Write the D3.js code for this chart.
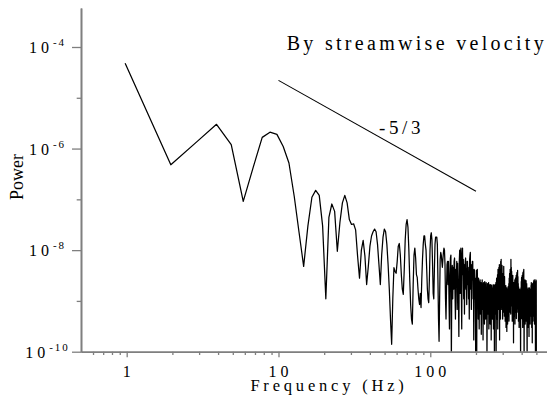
<!DOCTYPE html>
<html><head><meta charset="utf-8">
<script src="https://cdn.jsdelivr.net/npm/d3@7/dist/d3.min.js"></script>
<style>
body{margin:0;background:#fff}
svg{display:block}
svg text, svg tspan{font-family:"Liberation Serif","Times New Roman",Times,serif;fill:#000}
</style>
</head><body>
<svg id="chart" width="547" height="400"></svg>
<script>
// ---- data ----
const sampleRate = 1000;   // Hz
const nfft = 1024;         // frequency bin k -> k*sampleRate/nfft
// power spectrum, bins k = 1..100
const powerLow = [
4.8e-5,4.8e-7,1.4e-6,3.0e-6,1.2e-6,9.1e-8,4.4e-7,1.66e-6,2.1e-6,1.9e-6,
1.1e-6,5.2e-7,1.15e-7,2.2e-8,4.8e-9,3e-8,1.1e-7,1.5e-7,1.2e-7,3e-8,
1.1e-9,4.4e-8,8.1e-8,5.8e-8,9.5e-9,3.5e-8,8.5e-8,1.2e-7,8.5e-8,4e-8,
3.2e-8,3.3e-8,2.5e-8,7.6e-9,2.8e-9,1e-8,1.55e-8,7.6e-9,2.1e-9,4.8e-9,
1.2e-8,1.9e-8,2.3e-8,2.6e-8,2.3e-8,1.3e-8,5.2e-9,2.1e-9,8e-9,1.8e-8,
2.6e-8,2.3e-8,1.3e-8,5.2e-9,1.7e-9,4.4e-10,1.4e-10,1.1e-9,4.5e-9,3.8e-9,
3.5e-9,6e-9,1.2e-8,1.35e-8,8e-9,3.3e-9,1.7e-9,1.35e-9,4.2e-9,1.6e-8,
3.2e-8,4e-8,2.8e-8,1e-8,2.6e-9,8.5e-10,4.4e-10,3.5e-10,2.1e-9,8e-9,
1.1e-8,7e-9,3.3e-9,2.9e-9,1.7e-9,1.1e-9,8.5e-10,1.4e-9,7.4e-10,2.6e-9,
6.6e-9,1.3e-8,1.9e-8,1.9e-8,1.3e-8,1e-8,4.2e-9,1.7e-9,1.1e-9,9.3e-10
];
// bins k = 101..300
const powerMid = [
2.6e-9,1e-8,1.9e-8,2.2e-8,1.6e-8,5.2e-9,1.4e-9,1.1e-9,4.2e-9,1.3e-8,
1.8e-8,1.8e-8,1.8e-8,1.3e-8,2.6e-9,4.4e-10,1.6e-10,1.1e-9,6.6e-9,9e-9,
8e-9,6e-9,4.6e-9,6.6e-9,9e-9,1.1e-8,1e-8,5.2e-9,1.1e-9,4.4e-10,
1.7e-9,5.2e-9,6e-9,2.1e-9,6e-9,1.1e-9,2.8e-10,3.3e-9,7e-9,8e-9,
7e-11,2.6e-9,5e-9,1.1e-9,4.6e-9,1.7e-9,6e-9,7e-9,1.4e-9,4.4e-10,
4.2e-9,2.6e-9,6e-9,6.8e-10,5.5e-9,2.1e-9,1.1e-9,2e-10,6e-9,1e-8,
1.4e-9,9e-9,1.1e-8,1.7e-9,2.8e-10,8e-9,1.1e-8,3.3e-9,6.6e-9,1.1e-9,
5.2e-9,5.5e-10,4.2e-9,6e-9,7e-9,1.7e-9,4.2e-9,8.5e-10,6e-9,6e-9,
2.1e-9,3.3e-9,1.1e-9,4.6e-9,4.4e-10,6.6e-9,8e-9,9e-9,1.7e-9,4.2e-9,
6.8e-10,5.2e-9,2.6e-9,6e-9,6e-9,1.1e-9,3.3e-9,1.7e-10,4.2e-9,4e-9,
1.1e-9,2.8e-9,6.8e-10,7e-11,2.1e-9,4e-9,5e-11,2.6e-9,4.2e-9,1.1e-9,
2.1e-9,4.4e-10,2.8e-9,1.4e-9,2.8e-10,2.4e-9,1.1e-9,2.6e-9,5.5e-10,1.7e-9,
2.3e-9,2.2e-10,1.7e-9,6.8e-10,2.6e-9,1.1e-9,2.2e-9,1.7e-10,1.4e-9,2.3e-9,
8.5e-10,1.7e-9,3.5e-10,2.4e-9,1.1e-9,2.1e-9,4.4e-10,1.7e-9,2.3e-9,6.8e-10,
1.4e-9,7e-11,1.1e-9,2.2e-9,5.5e-10,1.8e-9,1.1e-9,2.3e-9,2.8e-10,1.7e-9,
2e-9,6.8e-10,2.1e-9,3.5e-10,1.6e-9,1.1e-9,2.1e-9,1.7e-10,1.7e-9,2e-9,
6.8e-10,1.4e-9,4.4e-10,1.8e-9,1.1e-9,2.1e-9,2.8e-10,1.6e-9,1.1e-9,2e-9,
5e-11,1.4e-9,2.1e-9,5.5e-10,1.7e-9,8.5e-10,2.3e-9,7e-11,1.7e-9,2.8e-9,
4.4e-10,2.1e-9,1.1e-9,3.3e-9,2.8e-10,4.2e-9,1.4e-9,4e-9,6.8e-10,4.6e-9,
1.7e-9,5.2e-9,1.7e-10,3.3e-9,1.1e-9,4.2e-9,4.4e-10,6e-9,1.7e-9,6.6e-9
];
// bins k = 301..512
const powerHigh = [
1.1e-9,4.6e-9,6.8e-10,5e-9,1.2e-9,3e-9,
4.4e-10,2.6e-9,9e-10,3.5e-9,6e-10,4.8e-9,1.4e-9,2.4e-9,5e-10,3e-9,8e-10,
1.8e-9,4e-10,1.5e-9,7e-10,2e-9,3e-10,1.2e-9,9e-10,1.8e-9,2.5e-10,1.4e-9,6e-10,1.7e-9,3.5e-10,1e-9,1.9e-9,5e-10,1.6e-9,
7e-10,2.2e-9,4e-10,2.8e-9,1e-9,3.5e-9,6e-10,2.5e-9,4.2e-9,9e-10,3.8e-9,5.5e-10,6.6e-9,1.5e-9,4.6e-9,
8e-10,3.8e-9,1.2e-9,3e-9,4e-10,2.6e-9,1e-9,3.2e-9,6e-10,2.2e-9,1.6e-9,1.5e-10,2.3e-9,7e-10,1.8e-9,
5e-10,2e-9,1.1e-9,2.6e-9,3.5e-10,1.8e-9,9e-10,2.8e-9,6e-10,2.2e-9,1.3e-9,3.2e-9,4.5e-10,2.5e-9,1e-9,3.6e-9,7e-10,2.7e-9,1.4e-9,4e-9,
6e-10,3e-9,1e-9,2.2e-9,4e-10,1.9e-9,8e-10,1.6e-9,3e-10,1.5e-9,1e-9,1.7e-9,5e-10,1.3e-9,7e-10,1.6e-9,4e-10,5e-11,1.2e-9,1.8e-9,
6e-10,2.4e-9,1e-9,2.9e-9,4.5e-10,2.2e-9,1.2e-9,3.2e-9,7e-10,2.6e-9,3e-10,3.6e-9,1.1e-9,2.8e-9,6e-10,3.9e-9,1.4e-9,4.2e-9,8e-10,5e-11,
1.5e-9,2.4e-9,5e-10,2e-9,1e-9,2.6e-9,3.5e-10,1.8e-9,8e-10,2.3e-9,1.2e-9,4e-10,2.5e-9,9e-10,1.9e-9,6e-10,2.2e-9,1.1e-9,2.4e-10,5e-11,1.6e-9,
7e-10,1.7e-9,4e-10,1.4e-9,9e-10,1.8e-9,3e-10,1.2e-9,6e-10,1.6e-9,1e-9,2e-10,1.5e-9,7e-10,1.8e-9,4.5e-10,1.3e-9,8e-10,1.7e-9,3.5e-10,1.1e-9,1.6e-9,5e-10,1.4e-9,9e-10,
2e-9,6e-10,2.3e-9,1e-9,1.7e-9,3e-10,2.1e-9,8e-10,1.5e-9,1.5e-10,1.9e-9,7e-10,2.2e-9,1.1e-9,4e-10,1.8e-9,9e-10,2.3e-9,5e-10,
1.6e-9,2.5e-9,7e-10,2e-9,1.2e-9,2.6e-9,3.5e-10,1.8e-9,1e-9,2.4e-9,6e-10,2.1e-9,1.4e-9,8e-10,5e-11,2.2e-9,1.1e-9,2.6e-9,6e-10,2.3e-9,2.5e-9,5e-11
];
// -5/3 reference line end points
const slopeFreq = [10, 200];
const slopePower = [2.2e-5, 1.45e-7];
const slopeLabel = "-5/3";
const xMajorTicks = [1, 10, 100];
const xMinorTicks = [0.6,0.7,0.8,0.9,2,3,4,5,6,7,8,9,20,30,40,50,60,70,80,90,200,300,400,500];
const yMajorExponents = [-4, -6, -8, -10];
const yMinorExponents = [-5, -7, -9];
const titleText = "By streamwise velocity";
const xLabel = "Frequency (Hz)";
const yLabel = "Power";

// ---- chart ----
const FONT = '"Liberation Serif","Times New Roman",Times,serif';
const power = powerLow.concat(powerMid, powerHigh);
const series = power.map((p, i) => ({f: (i + 1) * sampleRate / nfft, p}));

const svg = d3.select("#chart");
const L = 81, R = 548.4, T = 8, B = 351.7;
const x = d3.scaleLog().domain([0.5, 600]).range([L, R]);
const y = d3.scaleLog().domain([1e-10, 5.86e-4]).range([B, T]);
const axisColor = "#7f7f7f";

svg.append("clipPath").attr("id","clip").append("rect")
  .attr("x", L).attr("y", T).attr("width", R - L).attr("height", B - T);

// data line
svg.append("path").datum(series)
  .attr("clip-path","url(#clip)")
  .attr("fill","none").attr("stroke","#000").attr("stroke-width",1.25)
  .attr("stroke-linejoin","round")
  .attr("d", d3.line().x(d => x(d.f)).y(d => y(d.p)));

// slope line
const slopeData = slopeFreq.map((f, i) => ({f, p: slopePower[i]}));
svg.append("path").datum(slopeData)
  .attr("fill","none").attr("stroke","#000").attr("stroke-width",1.1)
  .attr("d", d3.line().x(d => x(d.f)).y(d => y(d.p)));

// axes
function styleAxis(g){
  g.selectAll("path.domain").attr("stroke", axisColor).attr("stroke-width", 1.6);
  g.selectAll(".tick line").attr("stroke", axisColor).attr("stroke-width", 1.3);
  g.selectAll(".tick text").remove();
}
svg.append("g").attr("transform",`translate(0,${B})`)
  .call(d3.axisBottom(x).tickValues(xMajorTicks).tickSize(5.6).tickSizeOuter(0).tickFormat(""))
  .call(styleAxis);
svg.append("g").attr("transform",`translate(0,${B})`)
  .call(d3.axisBottom(x).tickValues(xMinorTicks).tickSize(3.3).tickSizeOuter(0).tickFormat(""))
  .call(styleAxis);
svg.append("g").attr("transform",`translate(${L},0)`)
  .call(d3.axisLeft(y).tickValues(yMajorExponents.map(e => Math.pow(10, e))).tickSize(9).tickSizeOuter(0).tickFormat(""))
  .call(styleAxis);
svg.append("g").attr("transform",`translate(${L},0)`)
  .call(d3.axisLeft(y).tickValues(yMinorExponents.map(e => Math.pow(10, e))).tickSize(4.3).tickSizeOuter(0).tickFormat(""))
  .call(styleAxis);

// x tick labels
const xls = 4;
svg.selectAll("text.xt").data(xMajorTicks).join("text")
  .attr("class","xt")
  .attr("font-family", FONT)
  .attr("x", d => x(d) + xls / 2)
  .attr("y", B + 25)
  .attr("text-anchor","middle")
  .style("font-size","16px").style("letter-spacing", xls + "px")
  .text(d => d);

// y tick labels with superscripts
yMajorExponents.forEach(e => {
  const t = svg.append("text")
    .attr("font-family", FONT)
    .attr("x", 47.5).attr("y", y(Math.pow(10, e)) + 6)
    .attr("text-anchor","middle");
  t.append("tspan").style("font-size","16px").style("letter-spacing","4px").text("10");
  t.append("tspan").attr("dy", -7).style("font-size","11px").style("letter-spacing","2px").text(String(e));
});

// axis titles
svg.append("text").attr("font-family", FONT).attr("x", 329).attr("y", 391)
  .attr("text-anchor","middle").style("font-size","16.5px").style("letter-spacing","3.8px")
  .text(xLabel);
svg.append("text").attr("font-family", FONT).attr("transform","translate(23,177) rotate(-90)")
  .attr("text-anchor","middle").style("font-size","18px")
  .text(yLabel);

// title and slope label
svg.append("text").attr("font-family", FONT).attr("x", 547).attr("y", 50)
  .attr("text-anchor","end").style("font-size","20px").style("letter-spacing","3.3px")
  .text(titleText);
svg.append("text").attr("font-family", FONT).attr("x", 401.5).attr("y", 134)
  .attr("text-anchor","middle").style("font-size","19px").style("letter-spacing","3.6px")
  .text(slopeLabel);
</script>
</body></html>
